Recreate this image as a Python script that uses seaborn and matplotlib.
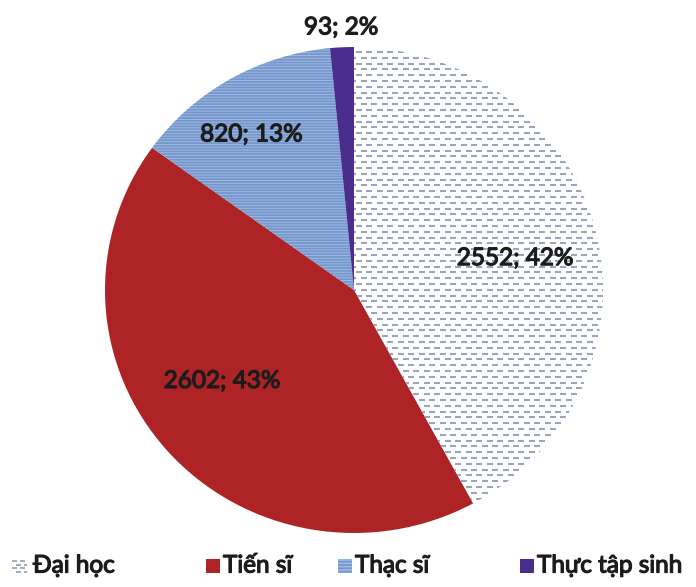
import numpy as np
import matplotlib
matplotlib.use("Agg")
import matplotlib.pyplot as plt
import matplotlib.patheffects as pe
from matplotlib.collections import LineCollection
from matplotlib.patches import Rectangle
import seaborn as sns

sns.set_theme(style="white")
plt.rcParams["font.family"] = ["Lato", "Noto Sans", "DejaVu Sans"]
plt.rcParams["hatch.linewidth"] = 1.3

# Staff by qualification
categories = ["Đại học", "Tiến sĩ", "Thạc sĩ", "Thực tập sinh"]
counts = [2552, 2602, 820, 93]
percents = [42, 43, 13, 2]

colors = ["#ffffff", "#ae2326", "#9dbbe3", "#4b2d8d"]
label_radius = [0.66, 0.65, 0.76, 1.08]
label_turn = [-3, -6, 3, 0]          # degrees added to each wedge's mid-angle

W, H, DPI = 696, 587, 100
fig = plt.figure(figsize=(W / DPI, H / DPI), dpi=DPI)
ax = fig.add_axes([0, 0, 1, 1])

cx, cy = 354, 290           # pie centre, px from top-left
rx, ry = 249, 243           # radii in px

wedges, _ = ax.pie(counts, colors=colors, startangle=90, counterclock=False,
                   radius=1.0, wedgeprops=dict(linewidth=0))
ax.set_aspect("auto")
ax.set_xlim(-cx / rx, (W - cx) / rx)
ax.set_ylim(-(H - cy) / ry, cy / ry)
ax.axis("off")

# Thạc sĩ: fine horizontal stripes
wedges[2].set_hatch("------")
wedges[2].set_edgecolor("#7595cb")

# Đại học: staggered short dashes, clipped to the wedge
def dash_rows(x_lo, x_hi, y_lo, y_hi, row_px, period_px, dash_px):
    segs = []
    y = y_lo
    row = 0
    while y < y_hi:
        x = x_lo + (period_px / 2) * (row % 2)
        while x < x_hi:
            segs.append([(x, y), (min(x + dash_px, x_hi), y)])
            x += period_px
        y += row_px
        row += 1
    return segs

px_segs = dash_rows(-12, W + 12, -6, H + 6, 5.8, 10.5, 6.0)
segs = [[((x - cx) / rx, (cy - y) / ry) for x, y in s] for s in px_segs]
dashes = LineCollection(segs, colors="#98a5bb", linewidths=1.5)
ax.add_collection(dashes)
dashes.set_clip_path(wedges[0])

text_color = "#1c1c1c"
thicken = [pe.withStroke(linewidth=0.9, foreground=text_color)]

# value labels
total = sum(counts)
start = 90.0
for i, (c, p) in enumerate(zip(counts, percents)):
    span = 360.0 * c / total
    mid = np.deg2rad(start - span / 2 + label_turn[i])
    start -= span
    r = label_radius[i]
    ax.text(r * np.cos(mid), r * np.sin(mid), f"{c}; {p}%",
            ha="center", va="center", fontsize=17.5, color=text_color,
            path_effects=thicken)

# legend row along the bottom (positions in px)
leg_y = 566
marker_x = [12, 206, 338, 520]
text_x = [33, 223, 355, 537]

def fx(px):
    return px / W

def fy(py):
    return 1 - py / H

for i, name in enumerate(categories):
    mx = marker_x[i]
    if i == 0:
        lsegs = dash_rows(mx, mx + 15, leg_y - 5, leg_y + 6, 3.6, 8.0, 4.5)
        lc = LineCollection([[(fx(x), fy(y)) for x, y in s] for s in lsegs],
                            colors="#9aa6ba", linewidths=1.3,
                            transform=fig.transFigure)
        fig.add_artist(lc)
    else:
        rect = Rectangle((fx(mx), fy(leg_y + 7)), 14 / W, 14 / H,
                         facecolor=colors[i], linewidth=0,
                         transform=fig.transFigure)
        if i == 2:
            rect.set_hatch("-----")
            rect.set_edgecolor("#7595cb")
        fig.add_artist(rect)
    fig.text(fx(text_x[i]), fy(leg_y), name, ha="left", va="center",
             fontsize=17.5, color=text_color, path_effects=thicken)

fig.savefig("out.png", dpi=DPI)
